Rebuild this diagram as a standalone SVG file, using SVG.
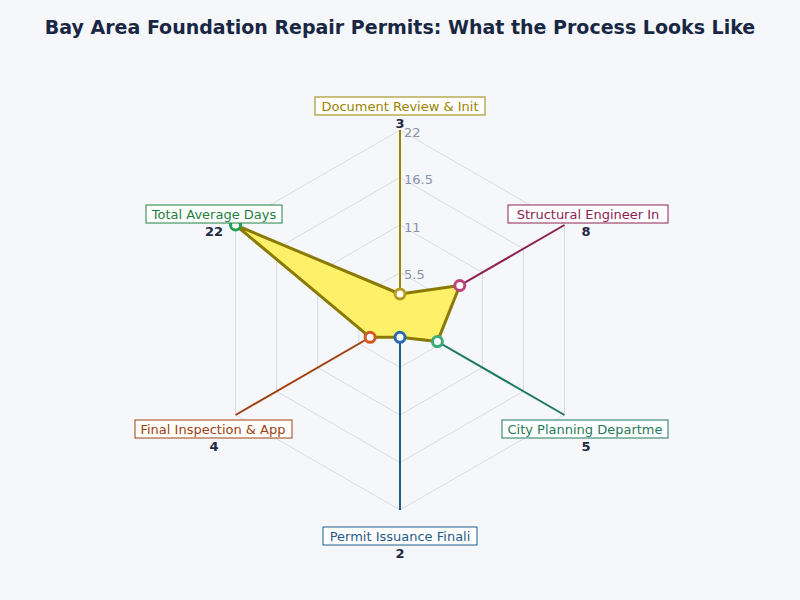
<svg xmlns="http://www.w3.org/2000/svg" width="800" height="600" viewBox="0 0 800 600">
<style>
text{font-family:"DejaVu Sans",sans-serif}
.grid{fill:none;stroke:#d8dbe2;stroke-width:1}
.tick{font-size:13px;fill:#8a93a6}
.lbl{font-size:13px}
.val{font-size:13px;font-weight:bold;fill:#1f2a40;text-anchor:middle}
.box{fill:#fff;stroke-width:1}
.pt{stroke-width:3}
</style>
<rect width="800" height="600" fill="#f5f7fb"/>
<text x="400" y="34" text-anchor="middle" font-size="19" font-weight="bold" fill="#1a2744">Bay Area Foundation Repair Permits: What the Process Looks Like</text>
<g id="grid">
<polygon class="grid" points="400,272.5 441.1,296.3 441.1,343.8 400,367.5 358.9,343.8 358.9,296.3"/>
<polygon class="grid" points="400,225 482.3,272.5 482.3,367.5 400,415 317.7,367.5 317.7,272.5"/>
<polygon class="grid" points="400,177.5 523.4,248.8 523.4,391.3 400,462.5 276.6,391.3 276.6,248.8"/>
<polygon class="grid" points="400,130 564.5,225 564.5,415 400,510 235.5,415 235.5,225"/>
<line class="grid" x1="400" y1="320" x2="235.5" y2="225"/>
<line class="grid" x1="400" y1="320" x2="564.5" y2="415"/>
<line class="grid" x1="400" y1="320" x2="235.5" y2="415"/>
<text class="tick" x="404" y="279">5.5</text>
<text class="tick" x="404" y="232">11</text>
<text class="tick" x="404" y="184">16.5</text>
<text class="tick" x="404" y="137">22</text>
</g>
<g id="connectors" stroke-width="2">
<line x1="400" y1="320" x2="400" y2="130" stroke="#9a8400"/>
<line x1="400" y1="320" x2="564.5" y2="225" stroke="#8b2252"/>
<line x1="400" y1="320" x2="564.5" y2="415" stroke="#1f7a5a"/>
<line x1="400" y1="320" x2="400" y2="510" stroke="#1f5a8a"/>
<line x1="400" y1="320" x2="235.5" y2="415" stroke="#a0400f"/>
<line x1="400" y1="320" x2="235.5" y2="225" stroke="#1e8040"/>
</g>
<polygon id="area" points="400,294 459.8,285.5 437.4,341.6 400,337.3 370.1,337.3 235.5,225" fill="#fff06a" stroke="#8a7a00" stroke-width="3" stroke-linejoin="round"/>
<g id="n-doc"><circle class="pt" cx="400" cy="294" r="5" fill="#fff" stroke="#b59a1c"/>
<rect class="box" x="315" y="97" width="170" height="18" stroke="#9a8400"/><text class="lbl" x="400" y="111" text-anchor="middle" fill="#9a8400">Document Review &amp; Init</text><text class="val" x="400" y="128">3</text></g>
<g id="n-struct"><circle class="pt" cx="459.8" cy="285.5" r="5" fill="#fff" stroke="#c0407a"/>
<rect class="box" x="508" y="205" width="160" height="18" stroke="#8b2252"/><text class="lbl" x="588" y="219" text-anchor="middle" fill="#8b2252">Structural Engineer In</text><text class="val" x="586" y="236">8</text></g>
<g id="n-city"><circle class="pt" cx="437.4" cy="341.6" r="5" fill="#fff" stroke="#3aaa7a"/>
<rect class="box" x="502" y="420" width="166" height="18" stroke="#1f7a5a"/><text class="lbl" x="585" y="434" text-anchor="middle" fill="#1f7a5a">City Planning Departme</text><text class="val" x="586" y="451">5</text></g>
<g id="n-permit"><circle class="pt" cx="400" cy="337.3" r="5" fill="#fff" stroke="#2a6ab0"/>
<rect class="box" x="323" y="527" width="154" height="18" stroke="#1f5a8a"/><text class="lbl" x="400" y="541" text-anchor="middle" fill="#1f5a8a">Permit Issuance Finali</text><text class="val" x="400" y="558">2</text></g>
<g id="n-final"><circle class="pt" cx="370.1" cy="337.3" r="5" fill="#fff" stroke="#d05a20"/>
<rect class="box" x="135" y="420" width="157" height="18" stroke="#a0400f"/><text class="lbl" x="213" y="434" text-anchor="middle" fill="#a0400f">Final Inspection &amp; App</text><text class="val" x="214" y="451">4</text></g>
<g id="n-total"><circle class="pt" cx="235.5" cy="225" r="5" fill="#fff" stroke="#22a050"/>
<rect class="box" x="146" y="205" width="136" height="18" stroke="#1e8040"/><text class="lbl" x="214" y="219" text-anchor="middle" fill="#1e8040">Total Average Days</text><text class="val" x="214" y="236">22</text></g>
</svg>
